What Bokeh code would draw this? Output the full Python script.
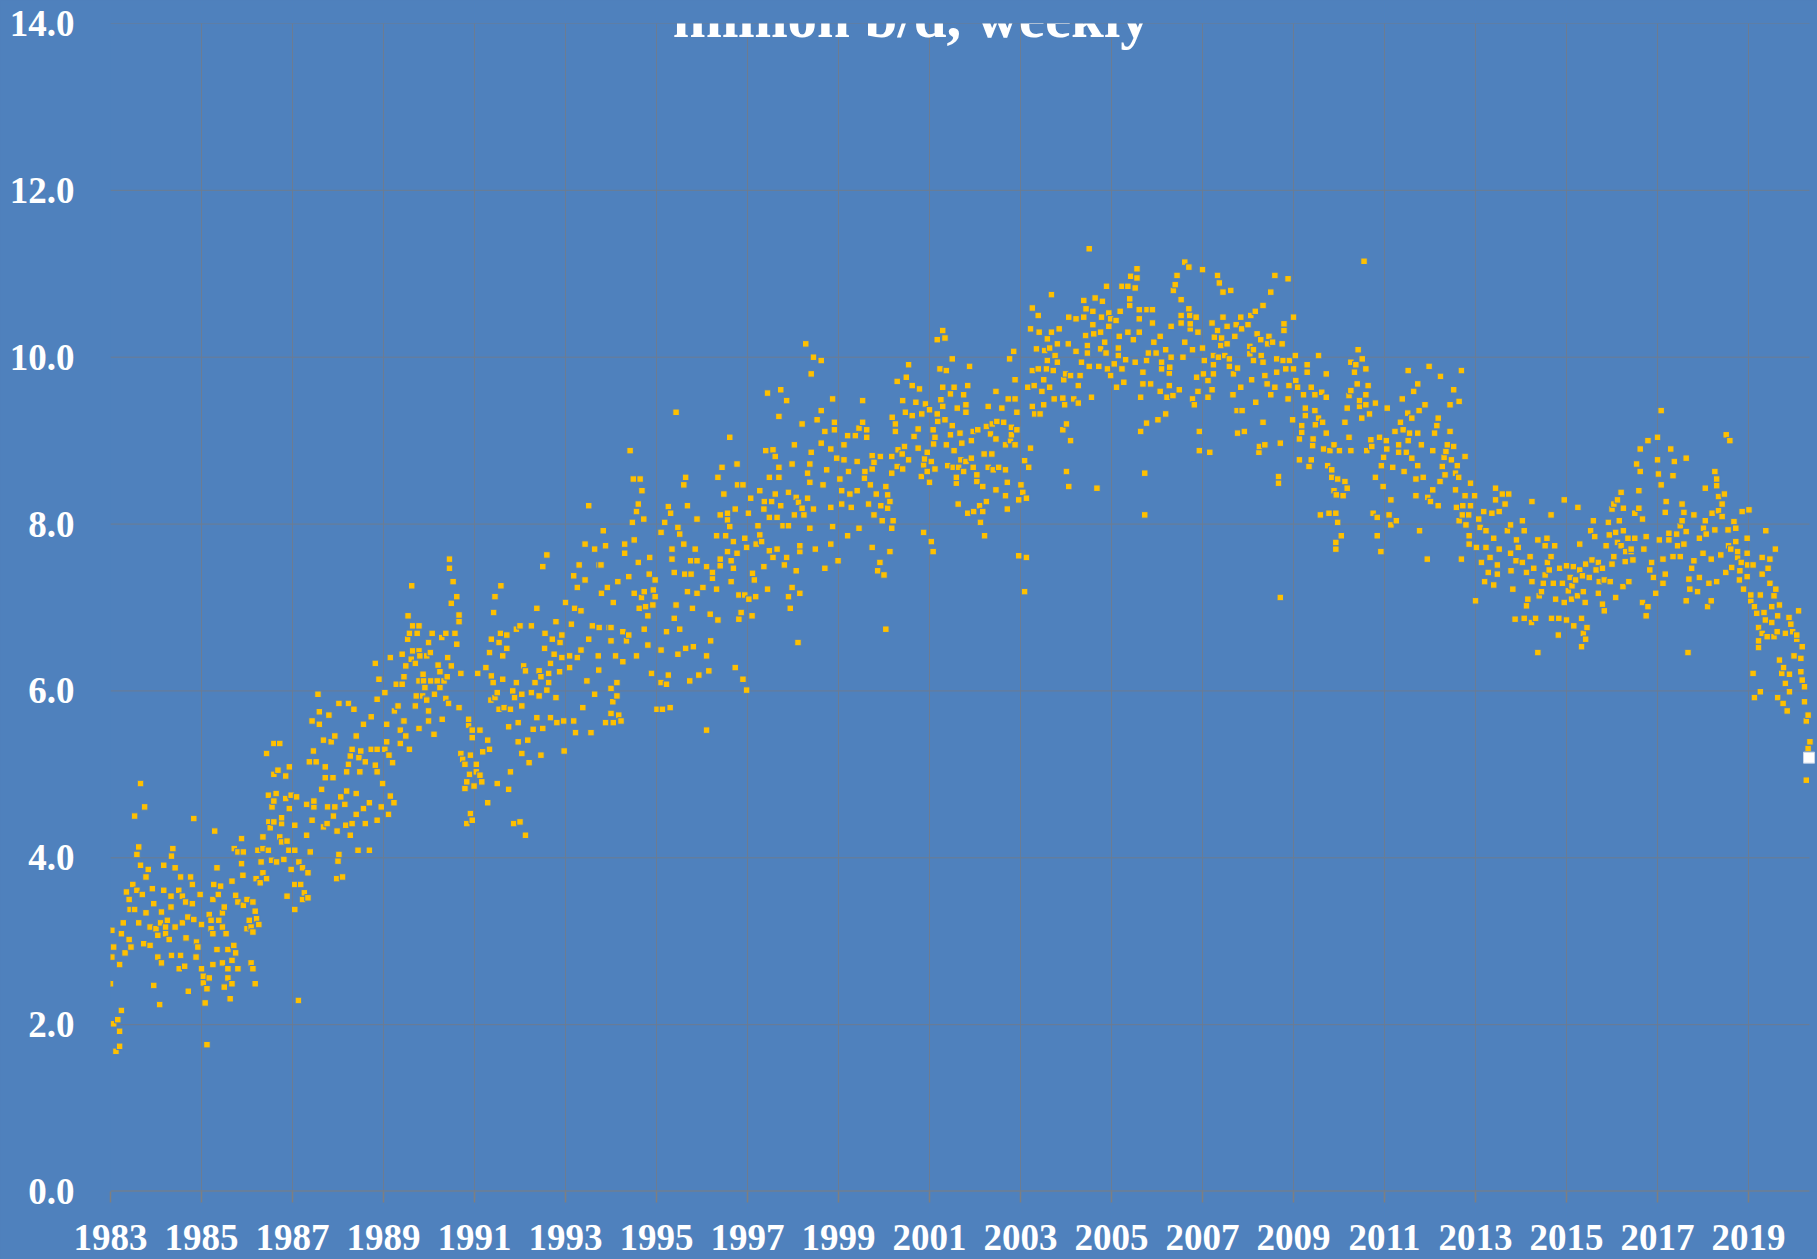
from bokeh.plotting import figure
from bokeh.models import FixedTicker, NumeralTickFormatter, Label, ColumnDataSource, GlobalInlineStyleSheet
from bokeh.embed import file_html
from bokeh.resources import INLINE

# each pair: (hundredths of the year, value in hundredths of million b/d)
pts_1983 = [(0,249),(3,313),(3,281),(7,293),(7,201),(12,168),(16,206),(20,272),(20,192),(20,174),(24,309),(24,217),(28,322),(32,286),(35,359),(41,350),(41,302),(43,338),(45,293),(49,368),(53,338),(53,450),(58,361),(58,404),(62,413),(62,322),(66,489),(66,391),(70,356),(73,297),(75,461),(78,377),(78,334),(83,386),(87,317),(87,295),(92,363),(95,345),(95,247)]
pts_1984 = [(0,315),(4,281),(4,307),(8,224),(10,322),(12,274),(12,335),(17,361),(17,391),(21,309),(21,317),(25,325),(29,302),(33,341),(33,354),(34,283),(34,402),(37,411),(42,317),(42,388),(50,361),(51,267),(54,377),(54,283),(58,354),(58,322),(63,270),(65,347),(66,304),(70,329),(71,240),(76,377),(80,345),(80,368),(83,326),(83,447),(88,281),(89,299),(92,293),(97,356)]
pts_1985 = [(0,320),(0,267),(4,250),(4,258),(8,226),(12,176),(12,243),(17,256),(17,332),(21,315),(21,325),(25,272),(25,309),(25,350),(27,368),(29,432),(34,388),(34,290),(37,356),(38,325),(42,366),(46,317),(46,334),(46,274),(50,341),(50,245),(54,309),(58,290),(58,267),(58,256),(63,231),(67,372),(67,277),(67,249),(71,295),(72,411),(75,286),(75,355),(80,407),(80,267),(80,347),(88,393),(88,423),(91,379),(92,407),(92,343)]
pts_1986 = [(0,350),(0,315),(5,325),(9,317),(9,274),(13,347),(13,311),(13,267),(18,336),(18,249),(20,375),(21,327),(24,409),(26,320),(29,370),(31,395),(35,425),(35,411),(35,382),(43,375),(43,525),(47,409),(47,475),(48,443),(51,436),(54,397),(55,461),(59,537),(59,500),(59,468),(59,443),(64,477),(65,395),(68,505),(72,537),(72,425),(76,448),(76,441),(76,419),(81,398),(85,498),(85,471),(88,420),(88,354),(92,409),(93,509),(93,459),(97,475),(97,386)]
pts_1987 = [(5,439),(5,409),(5,368),(5,338),(9,473),(13,229),(14,395),(18,368),(22,388),(22,350),(26,358),(31,427),(31,464),(34,382),(34,352),(37,515),(39,407),(43,564),(43,445),(46,528),(47,468),(47,461),(52,515),(59,575),(59,560),(64,482),(68,541),(68,437),(72,509),(72,496),(76,441),(77,461),(80,571),(85,539),(89,496),(90,450),(93,546),(93,461),(97,375),(98,432),(56,596)]
pts_1988 = [(0,396),(2,585),(2,404),(6,473),(10,377),(15,464),(17,439),(19,503),(19,480),(23,585),(23,512),(27,522),(27,427),(31,530),(31,441),(35,578),(40,546),(40,477),(40,452),(44,409),(46,520),(48,503),(50,528),(56,560),(56,459),(60,515),(60,441),(69,466),(69,409),(73,569),(73,530),(82,633),(82,511),(86,590),(86,530),(86,503),(86,445),(86,589),(90,614),(95,461),(98,489)]
pts_1989 = [(2,530),(3,598),(3,530),(7,560),(7,539),(11,523),(11,452),(12,523),(15,640),(15,474),(19,514),(20,514),(23,466),(24,576),(28,608),(31,582),(32,582),(36,553),(36,537),(37,553),(37,537),(41,644),(41,608),(43,564),(45,617),(45,564),(48,546),(49,630),(49,546),(53,662),(54,690),(56,530),(57,669),(57,530),(61,638),(62,726),(64,678),(64,648),(69,582),(70,633),(70,582),(72,594),(74,669),(78,678),(78,648),(78,612),(78,555),(80,642),(86,594),(87,620),(88,612),(91,604),(94,590),(95,642),(95,589),(98,576),(98,564),(99,658),(99,576),(99,564)]
pts_1990 = [(3,646),(4,612),(7,669),(11,548),(12,596),(18,612),(20,631),(24,623),(24,604),(28,664),(29,566),(33,612),(37,669),(37,591),(40,617),(41,640),(43,585),(45,758),(45,747),(49,630),(49,705),(53,731),(57,669),(61,656),(61,713),(66,580),(66,691),(66,683),(70,621),(70,525),(74,518),(79,512),(79,483),(83,491),(83,441),(87,566),(87,559),(89,500),(91,523),(91,453),(95,553),(95,544),(95,445),(99,486)]
pts_1991 = [(4,512),(4,503),(7,621),(12,553),(12,499),(16,491),(18,527),(25,628),(29,541),(29,466),(33,646),(33,530),(36,589),(37,618),(37,662),(41,610),(42,694),(45,713),(45,592),(50,598),(50,489),(54,658),(54,578),(57,669),(58,726),(62,642),(62,614),(65,580),(71,667),(71,651),(75,557),(75,482),(79,578),(79,503),(84,600),(86,441),(88,592),(92,610),(92,674),(96,562),(96,539)]
pts_1992 = [(0,678),(0,443),(4,596),(4,582),(4,525),(8,630),(12,624),(12,427),(17,541),(20,514),(25,678),(25,598),(29,554),(33,610),(37,699),(37,568),(42,624),(42,594),(46,617),(46,523),(50,749),(50,555),(54,651),(55,669),(59,763),(59,601),(63,621),(63,610),(67,633),(67,568),(71,662),(75,644),(79,683),(79,592),(81,562),(87,623),(88,658),(92,667),(92,640),(96,564),(97,528)]
pts_1993 = [(0,706),(9,642),(9,628),(13,680),(18,738),(18,564),(20,699),(22,550),(26,724),(26,640),(30,751),(34,696),(34,649),(38,580),(43,776),(43,733),(47,612),(51,822),(51,662),(56,550),(59,678),(64,770),(64,596),(72,642),(73,625),(74,751),(74,676),(78,751),(79,717),(83,792),(88,774),(92,724),(96,676),(88,562)]
pts_1994 = [(0,676),(0,660),(0,603),(0,573),(4,587),(5,706),(5,562),(10,642),(13,610),(13,594),(15,731),(17,571),(22,564),(26,671),(26,635),(30,776),(30,765),(34,660),(39,737),(39,667),(42,888),(47,802),(49,854),(51,781),(51,717),(56,815),(56,642),(60,824),(60,754),(62,699),(64,854),(67,712),(68,840),(72,806),(73,719),(73,674),(76,701),(81,690),(81,655),(84,740),(85,760),(89,621),(92,703),(93,721),(97,733),(97,713)]
pts_1995 = [(1,578),(10,790),(10,649),(10,610),(13,578),(18,802),(22,671),(22,608),(26,821),(26,619),(30,580),(31,813),(34,770),(34,758),(39,742),(39,687),(43,934),(43,703),(47,796),(47,644),(51,788),(51,674),(60,847),(60,776),(62,740),(64,856),(64,651),(68,822),(68,719),(73,612),(75,756),(76,740),(79,699),(81,653),(85,770),(89,806),(89,756),(89,717),(93,619)]
pts_1996 = [(2,724),(10,749),(10,642),(10,553),(15,624),(18,692),(19,660),(23,742),(23,735),(32,786),(32,722),(35,856),(35,685),(40,811),(40,758),(40,750),(44,868),(48,836),(52,786),(56,813),(56,805),(56,767),(61,904),(61,797),(64,756),(64,731),(69,779),(69,747),(73,818),(73,628),(77,872),(77,765),(78,847),(81,715),(81,686),(86,694),(90,847),(90,614),(94,783),(94,715),(98,772),(98,601)]
pts_1997 = [(2,813),(3,710),(7,831),(10,690),(11,741),(15,733),(18,713),(19,776),(23,798),(27,840),(27,787),(31,779),(36,818),(36,749),(37,827),(40,888),(44,957),(44,722),(48,856),(48,808),(48,768),(53,827),(56,889),(56,760),(61,881),(61,836),(65,808),(65,770),(69,929),(69,868),(69,856),(73,961),(73,822),(78,798),(81,751),(86,948),(86,760),(90,838),(90,798),(90,713),(94,699),(98,872),(98,724)]
pts_1998 = [(3,895),(3,811),(7,832),(7,744),(11,658),(12,826),(15,774),(15,767),(15,717),(20,920),(20,819),(24,811),(28,1016),(32,861),(32,831),(37,872),(37,850),(37,795),(40,980),(40,886),(45,1000),(45,818),(49,770),(53,925),(62,996),(62,936),(62,897),(66,847),(70,911),(70,747),(74,865),(83,890),(83,820),(83,776),(87,950),(87,797),(91,922),(91,913),(96,879),(99,756)]
pts_1999 = [(3,854),(7,840),(7,824),(12,895),(12,877),(20,906),(20,786),(22,863),(25,836),(28,820),(37,906),(41,875),(41,840),(45,915),(45,795),(53,948),(53,922),(57,855),(58,863),(62,913),(62,904),(66,824),(70,847),(74,882),(74,866),(74,772),(78,874),(78,811),(83,836),(86,744),(91,754),(92,881),(93,822),(96,804)]
pts_2000 = [(0,739),(4,845),(4,674),(8,835),(8,819),(13,827),(13,767),(17,881),(17,861),(17,795),(18,928),(20,804),(25,920),(25,911),(29,971),(29,869),(31,889),(40,884),(41,948),(41,866),(45,893),(47,934),(49,976),(54,991),(54,877),(62,966),(62,930),(66,905),(70,946),(75,914),(75,891),(78,962),(82,857),(83,932),(87,871),(87,790),(89,878),(91,944),(95,863),(95,886)]
pts_2001 = [(0,937),(0,850),(4,875),(4,779),(8,913),(8,767),(9,896),(12,904),(12,866),(17,1021),(17,932),(18,923),(23,986),(25,949),(29,1032),(29,964),(29,941),(34,1023),(34,925),(37,984),(37,895),(40,870),(46,956),(46,907),(50,998),(50,918),(52,868),(54,964),(54,888),(59,856),(59,849),(61,939),(63,824),(64,868),(67,909),(69,877),(71,897),(75,955),(75,863),(80,943),(80,934),(80,875),(84,966),(84,813),(88,989),(92,900),(92,879),(96,911),(96,868),(97,815)]
pts_2002 = [(4,859),(4,851),(6,913),(10,822),(12,802),(17,845),(17,815),(20,884),(21,786),(25,917),(25,827),(29,941),(29,868),(34,908),(37,884),(38,920),(40,865),(46,959),(46,902),(46,841),(48,923),(52,868),(59,939),(63,922),(67,895),(67,865),(67,834),(71,850),(71,818),(73,950),(76,998),(78,900),(80,916),(80,907),(85,1007),(88,950),(88,973),(88,895),(92,934),(92,913),(96,829),(96,762)]
pts_2003 = [(1,847),(5,838),(9,876),(9,719),(13,831),(13,760),(16,964),(18,868),(22,891),(22,1034),(26,1059),(26,984),(26,941),(30,966),(31,932),(35,1010),(39,1050),(39,986),(41,1030),(43,932),(47,959),(51,973),(51,943),(53,1008),(57,986),(59,1022),(59,996),(64,1011),(64,964),(68,1075),(68,1030),(72,984),(74,950),(76,1002),(81,1016),(81,994),(85,1034),(93,951),(93,913),(95,973),(97,943),(99,980)]
pts_2004 = [(1,920),(1,863),(5,1016),(6,1048),(6,845),(10,900),(10,978),(17,950),(22,1046),(22,1007),(27,966),(27,945),(31,978),(34,994),(39,1068),(39,1048),(43,1026),(44,1058),(47,1014),(47,1005),(51,1130),(51,989),(56,952),(59,1055),(59,1039),(61,1028),(64,1071),(68,843),(72,989),(76,1030),(76,1010),(78,1048),(80,1067),(85,1018),(88,1005),(89,1085),(91,986),(94,1053),(94,1037),(98,1046),(98,978)]
pts_2005 = [(6,992),(10,1044),(11,964),(15,1002),(15,1011),(17,1025),(19,1055),(23,1085),(23,986),(27,970),(31,997),(36,1085),(36,1030),(40,1070),(40,1062),(42,1097),(48,1021),(52,1083),(52,994),(56,1095),(56,1106),(61,1057),(61,1046),(61,1030),(64,952),(64,911),(69,982),(69,968),(73,861),(73,811),(77,996),(77,921),(78,1057),(81,1005),(86,968),(90,1057),(90,1041),(93,1018),(98,1005)]
pts_2006 = [(2,925),(7,1025),(7,959),(10,994),(10,986),(19,1009),(19,932),(22,952),(27,981),(27,966),(28,988),(31,1037),(31,1000),(35,954),(36,1080),(40,1087),(44,1098),(49,961),(53,1069),(53,1050),(53,1041),(57,1000),(61,1114),(61,1018),(70,1108),(70,1058),(72,1050),(73,1040),(73,1034),(78,1009),(78,950),(82,943),(86,1048),(87,976),(90,1030),(90,959),(93,911),(93,888)]
pts_2007 = [(0,1105),(0,1011),(2,980),(4,996),(12,972),(12,952),(16,886),(21,1041),(21,961),(24,1002),(24,991),(24,980),(26,1024),(33,1098),(33,1032),(35,1000),(37,1089),(40,1014),(42,1023),(45,1078),(45,1048),(49,1002),(54,1037),(54,1016),(59,998),(59,989),(62,1080),(67,955),(68,980),(71,1025),(74,1039),(76,936),(77,987),(77,909),(84,1048),(84,964),(86,1034),(87,936),(92,911),(100,1039)]
pts_2008 = [(4,1013),(4,1004),(6,1050),(8,973),(12,1009),(12,996),(16,1055),(17,946),(20,1028),(24,886),(25,893),(28,1021),(29,1002),(33,1062),(33,994),(33,922),(37,978),(37,895),(42,968),(43,1016),(46,1025),(50,1078),(50,955),(54,1018),(59,1098),(59,964),(63,998),(63,982),(67,857),(67,849),(71,897),(71,712),(75,1016),(77,996),(79,1040),(79,1032),(83,986),(88,1094),(88,950),(90,966),(91,996),(98,925),(100,1048),(100,986)]
pts_2009 = [(4,1002),(5,972),(9,964),(13,902),(13,877),(18,918),(18,910),(22,955),(26,939),(26,930),(30,991),(30,982),(34,869),(39,964),(39,877),(42,894),(43,902),(47,955),(47,936),(48,919),(55,1002),(55,927),(59,811),(62,958),(64,922),(66,890),(72,980),(72,952),(72,909),(75,870),(78,813),(80,888),(84,865),(84,856),(89,895),(89,840),(93,813),(93,778),(93,770),(94,835),(97,854),(97,802)]
pts_2010 = [(1,888),(5,786),(9,834),(13,922),(13,851),(18,939),(18,843),(22,954),(22,904),(26,994),(26,960),(26,888),(34,982),(37,991),(40,968),(42,1009),(45,941),(45,948),(50,927),(51,998),(55,1115),(59,986),(59,955),(59,943),(61,888),(64,966),(67,932),(70,901),(72,893),(75,813),(80,945),(80,856),(84,808),(84,786),(89,904),(92,767),(93,870),(97,845),(98,880)]
pts_2011 = [(4,900),(5,890),(6,939),(10,811),(14,829),(14,799),(18,868),(23,911),(26,804),(31,895),(31,886),(35,922),(39,950),(41,913),(43,863),(48,886),(51,933),(52,984),(52,900),(55,909),(60,927),(60,879),(64,959),(69,854),(69,834),(73,968),(73,909),(73,870),(76,936),(77,792),(81,895),(85,856),(89,943),(94,758),(95,832),(98,989)]
pts_2012 = [(1,827),(6,888),(6,841),(10,909),(15,918),(18,927),(18,822),(22,851),(23,977),(27,869),(31,880),(33,859),(35,887),(38,895),(44,943),(44,911),(47,877),(52,961),(52,893),(56,861),(56,841),(58,820),(60,870),(63,856),(64,947),(64,804),(69,984),(69,758),(71,811),(72,822),(77,881),(77,834),(79,799),(85,811),(86,786),(86,776),(89,849),(89,822),(98,834)]
pts_2013 = [(0,708),(2,772),(7,806),(10,796),(13,754),(18,815),(20,731),(23,792),(23,772),(28,742),(32,760),(36,813),(40,783),(40,727),(44,843),(44,829),(48,751),(48,740),(52,815),(52,770),(59,836),(65,824),(70,792),(73,836),(77,799),(77,765),(78,744),(82,722),(87,686),(89,756),(90,781),(94,772)]
pts_2014 = [(3,804),(3,754),(7,792),(7,687),(12,742),(12,702),(15,710),(20,761),(23,682),(24,827),(24,731),(28,747),(32,687),(37,781),(37,646),(40,714),(45,719),(49,729),(53,774),(53,739),(57,783),(58,754),(62,745),(66,811),(66,761),(67,687),(71,729),(74,774),(76,710),(82,667),(83,687),(85,747),(91,729),(95,829),(95,706),(98,750)]
pts_2015 = [(0,685),(0,750),(4,720),(8,736),(11,710),(12,726),(15,749),(16,678),(20,733),(24,714),(25,820),(29,776),(29,745),(33,687),(33,653),(35,738),(37,719),(37,669),(41,706),(42,752),(42,662),(45,676),(50,736),(53,792),(56,757),(59,804),(62,785),(65,745),(70,754),(70,717),(72,731),(79,747),(79,704),(83,733),(83,696),(87,774),(92,802),(94,787),(96,731)]
pts_2016 = [(0,818),(0,752),(4,824),(4,761),(8,790),(8,712),(12,829),(12,778),(16,804),(20,838),(20,774),(24,725),(25,819),(25,792),(29,755),(30,767),(35,783),(37,731),(42,770),(42,767),(46,757),(50,813),(50,783),(54,872),(59,840),(59,819),(62,890),(62,863),(67,806),(67,706),(70,770),(75,785),(75,690),(79,900),(79,701),(83,745),(87,754),(91,736),(96,717)]
pts_2017 = [(0,904),(0,877),(2,860),(4,781),(8,936),(8,847),(12,758),(12,729),(17,814),(17,740),(19,827),(25,789),(25,781),(29,890),(34,858),(34,761),(37,875),(42,788),(44,774),(50,798),(50,761),(54,824),(54,804),(58,814),(58,776),(63,879),(63,791),(63,708),(67,646),(69,734),(71,722),(75,747),(80,811),(80,756),(88,719),(92,783),(92,736),(100,765)]
pts_2018 = [(1,795),(5,843),(5,804),(7,788),(10,701),(13,729),(18,758),(18,708),(20,813),(26,863),(26,793),(30,854),(30,846),(30,731),(34,833),(34,816),(39,763),(42,824),(42,809),(47,836),(50,742),(51,907),(55,793),(56,774),(59,900),(61,770),(63,748),(68,803),(72,795),(72,779),(76,767),(76,760),(80,733),(81,744),(84,754),(86,815),(89,722),(97,783),(97,765),(97,737),(98,751)]
pts_2019 = [(1,817),(5,715),(5,708),(10,751),(10,621),(13,701),(13,592),(18,693),(22,676),(22,660),(22,652),(26,715),(26,599),(30,760),(30,740),(30,669),(34,694),(37,685),(38,792),(41,665),(43,747),(47,758),(47,729),(51,701),(51,682),(56,714),(56,665),(59,770),(60,722),(63,671),(64,690),(64,592),(68,703),(68,637),(73,621),(76,585),(77,628),(81,669),(81,609),(85,576),(89,688),(90,620),(90,599),(93,680),(97,671)]
pts_2020 = [(0,642),(6,667),(6,662),(10,696),(15,639),(15,623),(18,653),(18,613),(23,605),(23,587),(27,564),(27,493),(31,571),(31,531),(35,539)]
last_date = 2020.33
last_value = 5.20

x_ticks = list(range(1983, 2021, 2))
y_ticks = [0, 2, 4, 6, 8, 10, 12, 14]
title_text = "million b/d, weekly"

by_year = [(1983, pts_1983), (1984, pts_1984), (1985, pts_1985), (1986, pts_1986), (1987, pts_1987),
           (1988, pts_1988), (1989, pts_1989), (1990, pts_1990), (1991, pts_1991), (1992, pts_1992),
           (1993, pts_1993), (1994, pts_1994), (1995, pts_1995), (1996, pts_1996), (1997, pts_1997),
           (1998, pts_1998), (1999, pts_1999), (2000, pts_2000), (2001, pts_2001), (2002, pts_2002),
           (2003, pts_2003), (2004, pts_2004), (2005, pts_2005), (2006, pts_2006), (2007, pts_2007),
           (2008, pts_2008), (2009, pts_2009), (2010, pts_2010), (2011, pts_2011), (2012, pts_2012),
           (2013, pts_2013), (2014, pts_2014), (2015, pts_2015), (2016, pts_2016), (2017, pts_2017),
           (2018, pts_2018), (2019, pts_2019), (2020, pts_2020)]
points = sorted((y + t / 100, v / 100) for y, lst in by_year for t, v in lst)
dates = [a for a, _ in points]
values = [b for _, b in points]

BG = "#4F81BD"
GRID = "#6C7C92"
FONT = "Liberation Serif"
X_END = 2020.34

p = figure(width=1817, height=1259, output_backend="svg", toolbar_location=None,
           x_range=(1983, 2020.516), y_range=(0, 14),
           min_border_left=110, min_border_right=0, min_border_top=23, min_border_bottom=68,
           background_fill_color=BG, border_fill_color=BG, outline_line_color=None)
p.stylesheets = [GlobalInlineStyleSheet(css="html,body{margin:0!important;padding:0;background:#4F81BD;overflow:hidden}")]

p.ygrid.visible = False
p.xgrid.grid_line_color = GRID
p.xgrid.grid_line_width = 1
p.segment(x0=[1983] * 7, x1=[X_END] * 7, y0=y_ticks[1:], y1=y_ticks[1:], line_color=GRID, line_width=1)
p.segment(x0=[1983], x1=[X_END], y0=[0], y1=[0], line_color="#7F7F7F", line_width=2)

for ax, ticks in ((p.xaxis[0], x_ticks), (p.yaxis[0], y_ticks)):
    ax.ticker = FixedTicker(ticks=ticks)
    ax.axis_line_color = None
    ax.minor_tick_line_color = None
    ax.major_label_text_font = FONT
    ax.major_label_text_font_style = "bold"
    ax.major_label_text_font_size = "37px"
    ax.major_label_text_color = "#FFFFFF"
p.xaxis[0].major_tick_line_color = "#7F7F7F"
p.xaxis[0].major_tick_line_width = 1.5
p.xaxis[0].major_tick_out = 11
p.xaxis[0].major_tick_in = 0
p.xaxis[0].major_label_standoff = 22
p.yaxis[0].major_tick_line_color = None
p.yaxis[0].major_label_standoff = 30
p.yaxis[0].formatter = NumeralTickFormatter(format="0.0")

src = ColumnDataSource(data=dict(x=dates, y=values))
p.scatter("x", "y", source=src, marker="square", size=6.5, fill_color="#FFC000", line_color=BG, line_width=1)
p.scatter([last_date], [last_value], marker="square", size=11, fill_color="#FFFFFF", line_color="#C9D6E8", line_width=1)

p.add_layout(Label(x=2000.6, y=14.08, text=title_text, text_font=FONT, text_font_style="bold",
                   text_font_size="59px", text_color="#FFFFFF", text_align="center", text_baseline="middle"))

open("out.html", "w").write(file_html(p, INLINE))
